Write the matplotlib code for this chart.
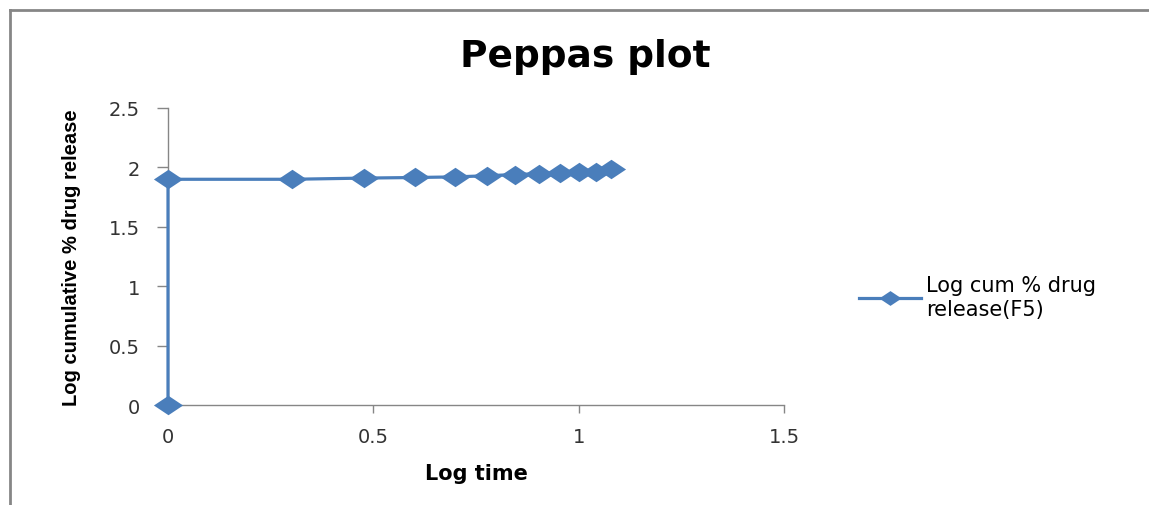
import matplotlib
matplotlib.use("Agg")
import matplotlib.pyplot as plt
from matplotlib.lines import Line2D

# Peppas plot data (F5)
log_time = [0, 0, 0.301, 0.477, 0.602, 0.699, 0.778, 0.845, 0.903, 0.954, 1.0, 1.041, 1.079]
log_cum_release = [0, 1.90, 1.90, 1.91, 1.915, 1.92, 1.93, 1.94, 1.947, 1.953, 1.958, 1.962, 1.985]

series_label = "Log cum % drug\nrelease(F5)"
x_ticks = [0, 0.5, 1, 1.5]
y_ticks = [0, 0.5, 1, 1.5, 2, 2.5]

blue = "#4a7ebb"
gray = "#868686"
font = "DejaVu Sans"

# the Excel picture is stretched sideways, so the diamonds are wider than tall
wide_diamond = [(-1.5, 0), (0, -1), (1.5, 0), (0, 1), (-1.5, 0)]

fig = plt.figure(figsize=(11.49, 5.06), dpi=100)

# outer chart frame (only top and left edges visible in the crop)
fig.add_artist(Line2D([9.5 / 1149, 9.5 / 1149], [0, 1 - 11 / 506], transform=fig.transFigure,
                      color=gray, lw=2))
fig.add_artist(Line2D([9.5 / 1149, 1], [1 - 11 / 506, 1 - 11 / 506], transform=fig.transFigure,
                      color=gray, lw=2))

ax = fig.add_axes([168 / 1149, 1 - 406 / 506, (784 - 168) / 1149, (406 - 109) / 506])
ax.plot(log_time, log_cum_release, color=blue, lw=2.3, marker=wide_diamond, markersize=21,
        markeredgewidth=0, clip_on=False, zorder=3)

ax.set_xlim(0, 1.5)
ax.set_ylim(0, 2.5)
ax.set_xticks(x_ticks)
ax.set_yticks(y_ticks)
ax.set_xticklabels([f"{t:g}" for t in x_ticks], fontfamily=font, fontsize=14, color="#333333")
ax.set_yticklabels([f"{t:g}" for t in y_ticks], fontfamily=font, fontsize=14, color="#333333")
ax.tick_params(axis="x", direction="out", length=6, width=1, color=gray, pad=10)
ax.tick_params(axis="y", direction="out", length=8, width=1, color=gray, pad=12)

for side in ["top", "right"]:
    ax.spines[side].set_visible(False)
for side in ["left", "bottom"]:
    ax.spines[side].set_color(gray)
    ax.spines[side].set_linewidth(1)

ax.set_xlabel("Log time", fontfamily=font, fontsize=15, fontweight="bold", labelpad=12)
ax.set_ylabel("Log cumulative % drug release", fontfamily="Liberation Sans",
              fontsize=14.5, fontweight="bold", labelpad=20)

fig.text(585 / 1149, 1 - 57 / 506, "Peppas plot", ha="center", va="center",
         fontfamily=font, fontsize=27, fontweight="bold")

handle = Line2D([], [], color=blue, lw=2.3, marker=wide_diamond, markersize=16, markeredgewidth=0)
fig.legend([handle], [series_label], loc="center left", bbox_to_anchor=(840 / 1149, 1 - 298 / 506),
           frameon=False, prop={"family": font, "size": 15}, handlelength=3.0,
           handletextpad=0.25, labelspacing=0.25)

fig.savefig("out.png", dpi=100)
